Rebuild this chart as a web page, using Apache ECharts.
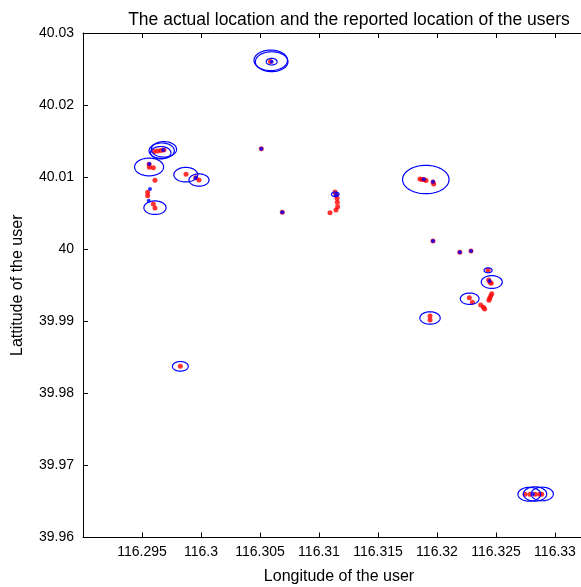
<!DOCTYPE html>
<html>
<head>
<meta charset="utf-8">
<script src="https://cdn.jsdelivr.net/npm/echarts@6/dist/echarts.min.js"></script>
<style>html,body{margin:0;padding:0;background:#fff}#chart{width:581px;height:587px}</style>
</head>
<body>
<div id="chart"></div>
<script>
// Reported locations (red)
const reportedLon = [116.30589,116.29602,116.29632,116.29661,116.29686,116.29560,116.29562,116.29596,116.29873,116.29955,116.29983,116.29610,116.29548,116.29548,116.29596,116.29610,116.29825,116.30511,116.30689,116.31136,116.31144,116.31153,116.31155,116.31158,116.31144,116.31093,116.31856,116.31873,116.31890,116.31907,116.31966,116.31972,116.31966,116.32193,116.32288,116.32433,116.32438,116.32449,116.32460,116.32464,116.32455,116.32446,116.32440,116.32274,116.32300,116.32370,116.32393,116.32404,116.31941,116.31941,116.32746,116.32788,116.32831,116.32869,116.32887];
const reportedLat = [40.02605,40.01356,40.01363,40.01370,40.01377,40.01178,40.01137,40.01131,40.01039,40.00992,40.00960,40.00956,40.00790,40.00742,40.00627,40.00572,39.98375,40.01395,40.00512,40.00794,40.00756,40.00706,40.00651,40.00590,40.00544,40.00507,40.00974,40.00967,40.00967,40.00953,40.00933,40.00905,40.00114,39.99957,39.99975,39.99707,39.99573,39.99541,39.99527,39.99383,39.99351,39.99319,39.99291,39.99327,39.99263,39.99226,39.99194,39.99171,39.99073,39.99018,39.96600,39.96600,39.96600,39.96600,39.96600];
// Actual locations (blue)
const actualLon = [116.30599,116.29680,116.29562,116.29955,116.29568,116.29557,116.30511,116.30689,116.31144,116.31888,116.31966,116.31966,116.32445,116.32813,116.32193,116.32288];
const actualLat = [40.02602,40.01377,40.01182,40.00992,40.00835,40.00673,40.01395,40.00512,40.00760,40.00970,40.00937,40.00114,39.99559,39.96604,39.99957,39.99975];
// Uncertainty circles (degrees)
const circleLon = [116.30591,116.30599,116.30599,116.29667,116.29686,116.29659,116.29560,116.29871,116.29983,116.29610,116.29825,116.31138,116.31905,116.32433,116.32464,116.32277,116.31941,116.32782,116.32831,116.32892];
const circleLat = [40.02621,40.02602,40.02602,40.01367,40.01386,40.01339,40.01141,40.01034,40.00960,40.00576,39.98375,40.00762,40.00967,39.99707,39.99545,39.99313,39.99046,39.96600,39.96604,39.96604];
const circleRadius = [0.00142,0.00138,0.00046,0.00107,0.00107,0.00086,0.00123,0.00101,0.00085,0.00094,0.00067,0.00032,0.00197,0.00034,0.00089,0.00079,0.00086,0.00096,0.00099,0.00094];
// Axis ticks
const xTickValues = [116.295,116.3,116.305,116.31,116.315,116.32,116.325,116.33];
const yTickValues = [39.96,39.97,39.98,39.99,40,40.01,40.02,40.03];

const zip2 = (a, b) => a.map((v, i) => [v, b[i]]);
const circleData = circleLon.map((v, i) => [v, circleLat[i], circleRadius[i]]);

function renderEllipse(params, api) {
  const c = api.coord([api.value(0), api.value(1)]);
  const r = api.value(2);
  const s = api.size([r, r]);
  const pts = [];
  for (let i = 0; i < 90; i++) {
    const t = i / 90 * Math.PI * 2;
    pts.push([c[0] + s[0] * Math.cos(t), c[1] + s[1] * Math.sin(t)]);
  }
  return { type: 'polygon', shape: { points: pts }, style: { fill: 'none', stroke: '#0000ff', lineWidth: 1.2 } };
}

const font = 'Liberation Sans, Arial, Helvetica, sans-serif';
const chart = echarts.init(document.getElementById('chart'), null, { renderer: 'canvas' });
const axisCommon = {
  axisLine: { show: true, onZero: false, lineStyle: { color: '#000', width: 1 } },
  splitLine: { show: false }
};
chart.setOption({
  animation: false,
  backgroundColor: '#fff',
  title: [{
    text: 'The actual location and the reported location of the users',
    left: 344, top: 6, textAlign: 'center',
    textStyle: { fontFamily: font, fontSize: 17.5, fontWeight: 'normal', color: '#000' }
  }, {
    text: 'Longitude of the user',
    left: 334, top: 564, textAlign: 'center',
    textStyle: { fontFamily: font, fontSize: 16, fontWeight: 'normal', color: '#000' }
  }],
  grid: { left: 83, top: 33, width: 531, height: 504.5, outerBoundsMode: 'none', containLabel: false },
  xAxis: [{
    type: 'value', min: 116.29, max: 116.335, position: 'bottom',
    axisTick: { show: true, inside: true, length: 5, lineStyle: { color: '#000' }, customValues: xTickValues },
    axisLabel: { show: true, margin: 8, fontFamily: font, fontSize: 14, color: '#000', customValues: xTickValues },
    ...axisCommon
  }, {
    type: 'value', min: 116.29, max: 116.335, position: 'top',
    axisTick: { show: true, inside: true, length: 5, lineStyle: { color: '#000' }, customValues: xTickValues },
    axisLabel: { show: false },
    ...axisCommon
  }],
  yAxis: [{
    type: 'value', min: 39.96, max: 40.03, interval: 0.01, position: 'left',
    name: 'Lattitude of the user', nameLocation: 'middle', nameGap: 57, nameRotate: 90,
    nameTextStyle: { fontFamily: font, fontSize: 16, color: '#000' },
    axisTick: { show: true, inside: true, length: 5, lineStyle: { color: '#000' }, customValues: yTickValues },
    axisLabel: { show: true, margin: 9, fontFamily: font, fontSize: 14, color: '#000', customValues: yTickValues },
    ...axisCommon
  }],
  series: [{
    type: 'scatter', name: 'Reported', xAxisIndex: 0, yAxisIndex: 0,
    data: zip2(reportedLon, reportedLat), symbol: 'circle', symbolSize: 5,
    itemStyle: { color: '#ff0000' }, z: 2
  }, {
    type: 'scatter', name: 'Actual', xAxisIndex: 0, yAxisIndex: 0,
    data: zip2(actualLon, actualLat), symbol: 'circle', symbolSize: 4,
    itemStyle: { color: '#0000ff' }, z: 3
  }, {
    type: 'custom', name: 'Circles', xAxisIndex: 0, yAxisIndex: 0,
    data: circleData, encode: { x: 0, y: 1 }, renderItem: renderEllipse, clip: true, z: 4, silent: true
  }]
});
</script>
</body>
</html>
